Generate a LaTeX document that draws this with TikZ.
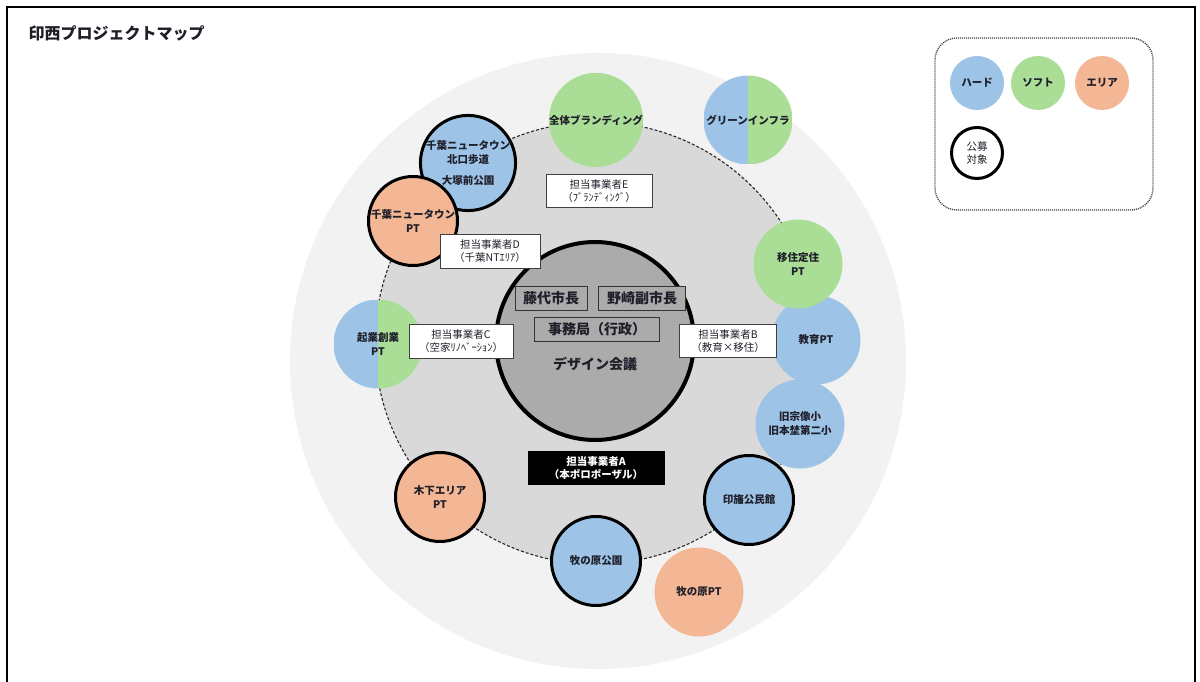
\documentclass[tikz,border=0pt]{standalone}
\usepackage{fontspec}
\setmainfont{Noto Sans CJK JP}
\definecolor{hardc}{HTML}{9DC3E6}
\definecolor{softc}{HTML}{AADD96}
\definecolor{areac}{HTML}{F4B795}
\definecolor{outerc}{HTML}{F2F2F2}
\definecolor{midc}{HTML}{D9D9D9}
\definecolor{innerc}{HTML}{ABABAB}
\definecolor{txtc}{HTML}{1F1F2A}
\begin{document}
\begin{tikzpicture}[x=1pt,y=-1pt,
  circ/.style={circle, minimum size=89pt, inner sep=0pt, align=center, text=txtc,
    font=\bfseries\fontsize{10.5}{14}\selectfont},
  hard/.style={circ, fill=hardc},
  soft/.style={circ, fill=softc},
  area/.style={circ, fill=areac},
  pub/.style={draw=black, line width=3pt},
  halfhs/.style={circ, path picture={
     \fill[hardc] (path picture bounding box.south west) rectangle (path picture bounding box.north);
     \fill[softc] (path picture bounding box.north) rectangle (path picture bounding box.south east);}},
  tbox/.style={draw=black!75, fill=white, line width=0.8pt, inner sep=0pt, align=center,
    text=txtc, font=\fontsize{10.5}{13}\selectfont},
  gbox/.style={draw=black!80, fill=innerc, line width=1pt, inner sep=0pt, minimum height=24pt,
    text=txtc, font=\bfseries\fontsize{14}{16}\selectfont},
  legc/.style={circle, minimum size=54pt, inner sep=0pt, align=center, text=txtc,
    font=\bfseries\fontsize{10.5}{13}\selectfont},
]
\useasboundingbox (0,0) rectangle (1200,682);
\fill[white] (0,0) rectangle (1200,682);
\draw[line width=2pt] (7,690) -- (7,7) -- (1195,7) -- (1195,690);

\node[anchor=west, text=txtc, font=\bfseries\fontsize{16}{18}\selectfont] (title) at (25,33) {印西プロジェクトマップ};

% rings
\node[circle, fill=outerc, minimum size=616pt, inner sep=0pt] (outer) at (598,361) {};
\node[circle, fill=midc, draw=black!85, dashed, dash pattern=on 3pt off 2pt, line width=1.1pt,
  minimum size=442pt, inner sep=0pt] (mid) at (596,343) {};
\node[circle, fill=innerc, draw=black, line width=4pt, minimum size=198pt, inner sep=0pt] (inner) at (595,341) {};
\node[text=txtc, font=\bfseries\fontsize{14}{16}\selectfont] (kaigi) at (595,364) {デザイン会議};
\node[gbox, minimum width=72pt] (fujishiro) at (551,298) {藤代市長};
\node[gbox, minimum width=87pt] (nozaki) at (642,298) {野崎副市長};
\node[gbox, minimum width=125pt] (jimu) at (597,329) {事務局（行政）};

% project circles
\node[soft] (brand) at (596,120) {全体ブランディング};
\node[halfhs] (green) at (748,120) {グリーンインフラ};
\node[hard, pub] (kitaguchi) at (468,163) {千葉ニュータウン\\北口歩道\\[7pt]大塚前公園};
\node[area, pub] (cntpt) at (413,221) {千葉ニュータウン\\PT};
\node[halfhs] (kigyo) at (378,344) {起業創業\\PT};
\node[area, pub] (kioroshi) at (440,497) {木下エリア\\PT};
\node[hard, pub] (makipark) at (596,561) {牧の原公園};
\node[area] (makipt) at (699,592) {牧の原PT};
\node[hard, pub] (inba) at (749,500) {印旛公民館};
\node[hard] (kyu) at (800,424) {旧宗像小\\旧本埜第二小};
\node[hard] (kyoiku) at (816,340) {教育PT};
\node[soft] (iju) at (798,264) {移住定住\\PT};

% operator boxes
\node[tbox, minimum width=106pt, minimum height=33pt] (opE) at (599,191) {担当事業者E\\（ﾌﾞﾗﾝﾃﾞｨﾝｸﾞ）};
\node[tbox, minimum width=100pt, minimum height=34pt] (opD) at (490,251) {担当事業者D\\（千葉NTｴﾘｱ）};
\node[tbox, minimum width=104pt, minimum height=34pt] (opC) at (461,341) {担当事業者C\\（空家ﾘﾉﾍﾞｰｼｮﾝ）};
\node[tbox, minimum width=97pt, minimum height=33pt] (opB) at (728,341) {担当事業者B\\（教育×移住）};
\node[tbox, fill=black, draw=black, text=white, font=\bfseries\fontsize{10.5}{13}\selectfont,
  minimum width=136pt, minimum height=33pt] (opA) at (596,468) {担当事業者A\\（本ポロポーザル）};

% legend
\node[draw=black!75, dash pattern=on 1pt off 1pt, line width=1.4pt, rounded corners=22pt,
  minimum width=218pt, minimum height=172pt, inner sep=0pt] (legend) at (1044,124) {};
\node[legc, fill=hardc] (lhard) at (977,83) {ハード};
\node[legc, fill=softc] (lsoft) at (1038,83) {ソフト};
\node[legc, fill=areac] (larea) at (1102,83) {エリア};
\node[legc, fill=white, draw=black, line width=3pt, minimum size=51pt, font=\fontsize{10.5}{13}\selectfont] (lpub) at (977,153) {公募\\対象};
\end{tikzpicture}
\end{document}
